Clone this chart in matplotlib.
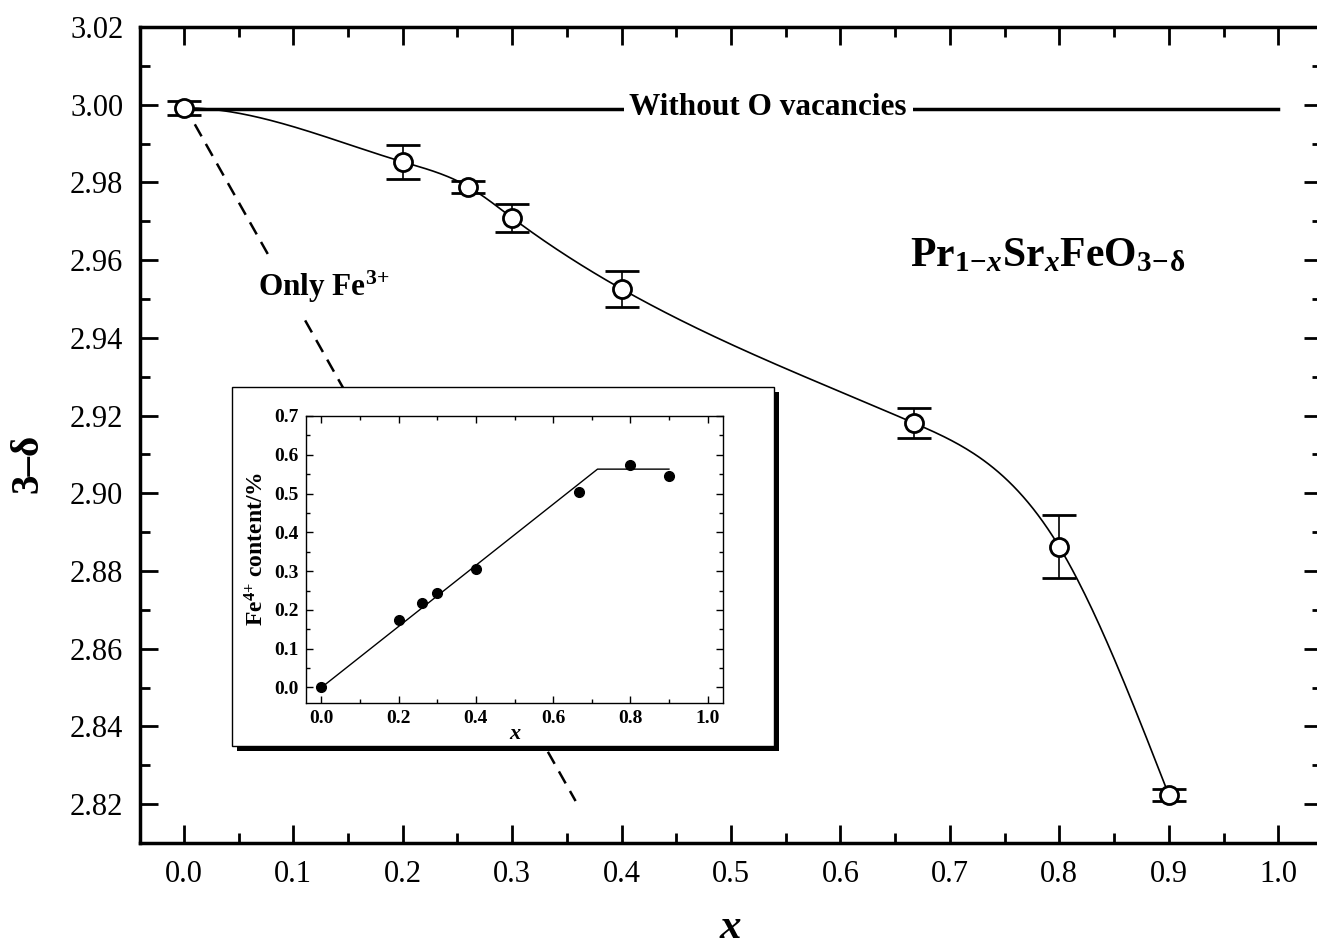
import numpy as np
import matplotlib
matplotlib.use("Agg")
import matplotlib.pyplot as plt
from matplotlib.patches import Rectangle
from matplotlib.ticker import MultipleLocator

plt.rcParams['font.family'] = ['Liberation Serif', 'DejaVu Serif']
plt.rcParams['mathtext.fontset'] = 'custom'
plt.rcParams['mathtext.rm'] = 'Liberation Serif:bold'
plt.rcParams['mathtext.bf'] = 'Liberation Serif:bold'
plt.rcParams['mathtext.it'] = 'Liberation Serif:italic:bold'

# oxygen content 3-delta vs Sr content x
sr_x = [0.0, 0.2, 0.26, 0.3, 0.4, 0.667, 0.8, 0.9]
oxygen = [2.9992, 2.9853, 2.9789, 2.9709, 2.9526, 2.9181, 2.8862, 2.8224]
oxygen_err = [0.0018, 0.0044, 0.0015, 0.0036, 0.0046, 0.0039, 0.0081, 0.0015]

# reference lines
no_vac_x = [0.0, 1.0]
no_vac_y = [2.999, 2.999]
only_fe3_x = [0.0, 0.358]
only_fe3_y = [3.0, 2.8208]

# inset: Fe4+ content
fe4_x = [0.0, 0.2, 0.26, 0.3, 0.4, 0.667, 0.8, 0.9]
fe4_y = [0.0, 0.1735, 0.219, 0.244, 0.3067, 0.504, 0.5747, 0.5455]
fe4_fit_x = [0.0, 0.715, 0.9]
fe4_fit_y = [0.0, 0.563, 0.563]


def spline(x, y, xs, start_slope=0.0):
    # cubic spline, clamped slope at the first point, natural at the last
    x = np.asarray(x, float)
    y = np.asarray(y, float)
    n = len(x)
    h = np.diff(x)
    A = np.zeros((n, n))
    b = np.zeros(n)
    A[0, 0] = 2 * h[0]
    A[0, 1] = h[0]
    b[0] = 3 * ((y[1] - y[0]) / h[0] - start_slope)
    A[-1, -1] = 1
    for i in range(1, n - 1):
        A[i, i - 1] = h[i - 1]
        A[i, i] = 2 * (h[i - 1] + h[i])
        A[i, i + 1] = h[i]
        b[i] = 3 * ((y[i + 1] - y[i]) / h[i] - (y[i] - y[i - 1]) / h[i - 1])
    c = np.linalg.solve(A, b)
    bb = (y[1:] - y[:-1]) / h - h * (2 * c[:-1] + c[1:]) / 3
    d = (c[1:] - c[:-1]) / (3 * h)
    idx = np.clip(np.searchsorted(x, xs) - 1, 0, n - 2)
    t = xs - x[idx]
    return y[idx] + bb[idx] * t + c[idx] * t ** 2 + d[idx] * t ** 3


W, H = 1317, 948
fig = plt.figure(figsize=(W / 100, H / 100), dpi=100)

ax = fig.add_axes([140 / W, (H - 843) / H, (1322 - 140) / W, (843 - 27) / H])
ax.set_xlim(-0.04, 1.04)
ax.set_ylim(2.81, 3.02)

xs = np.linspace(sr_x[0], sr_x[-1], 400)
ax.plot(xs, spline(sr_x, oxygen, xs), color='black', lw=1.2, zorder=2)
ax.plot(no_vac_x, no_vac_y, color='black', lw=2.5, zorder=2)
ax.plot(only_fe3_x, only_fe3_y, color='black', lw=1.8, dashes=(5.5, 3.5), zorder=1)
ax.errorbar(sr_x, oxygen, yerr=oxygen_err, fmt='o', ms=13, mfc='white', mec='black',
            mew=2, ecolor='black', elinewidth=1.2, capsize=12, capthick=1.2, zorder=3)

ax.text(0.534, 2.9974, 'Without O vacancies', ha='center', va='baseline', fontsize=22.5,
        fontweight='bold', zorder=4,
        bbox=dict(facecolor='white', edgecolor='none', pad=4))
ax.text(0.0676, 2.9508, r'Only Fe$^{3\!+}$', ha='left', va='baseline', fontsize=22.5,
        fontweight='bold', zorder=4,
        bbox=dict(facecolor='white', edgecolor='none', pad=9))
ax.text(0.6636, 2.9583, r'Pr$_{1\!-\!x}$Sr$_{x}$FeO$_{3\!-\!\mathrm{δ}}$', ha='left',
        va='baseline', fontsize=30, fontweight='bold', zorder=4)

ax.xaxis.set_major_locator(MultipleLocator(0.1))
ax.xaxis.set_minor_locator(MultipleLocator(0.05))
ax.yaxis.set_major_locator(MultipleLocator(0.02))
ax.yaxis.set_minor_locator(MultipleLocator(0.01))
ax.xaxis.set_major_formatter(plt.FuncFormatter(lambda v, p: f'{v:.1f}'))
ax.yaxis.set_major_formatter(plt.FuncFormatter(lambda v, p: f'{v:.2f}'))
ax.tick_params(which='both', direction='in', top=True, right=True, width=2, labelsize=22)
ax.tick_params(which='major', length=13, pad=12)
ax.tick_params(which='minor', length=7)
for s in ax.spines.values():
    s.set_linewidth(2.5)

fig.text(28 / W, 1 - 463 / H, '3–δ', rotation=90, ha='center', va='center',
         fontsize=28, fontweight='bold')
fig.text(730 / W, 1 - 938 / H, 'x', ha='center', va='baseline', fontsize=31,
         fontweight='bold', style='italic')

# inset frame with drop shadow
fl, fr, ft, fb = 232, 774, 387, 746
sh = 5
fig.patches.append(Rectangle(((fl + sh) / W, (H - fb - sh) / H), (fr - fl) / W, (fb - ft) / H,
                             transform=fig.transFigure, facecolor='black', edgecolor='none', zorder=1))
fig.patches.append(Rectangle((fl / W, (H - fb) / H), (fr - fl) / W, (fb - ft) / H,
                             transform=fig.transFigure, facecolor='white', edgecolor='black',
                             lw=1, zorder=2))

ins = fig.add_axes([306 / W, (H - 703) / H, (723 - 306) / W, (703 - 416) / H], zorder=3)
ins.set_xlim(-0.04, 1.04)
ins.set_ylim(-0.04, 0.7)
ins.plot(fe4_fit_x, fe4_fit_y, color='black', lw=1)
ins.plot(fe4_x, fe4_y, 'o', color='black', ms=7)
ins.xaxis.set_major_locator(MultipleLocator(0.2))
ins.xaxis.set_minor_locator(MultipleLocator(0.1))
ins.yaxis.set_major_locator(MultipleLocator(0.1))
ins.yaxis.set_minor_locator(MultipleLocator(0.05))
ins.xaxis.set_major_formatter(plt.FuncFormatter(lambda v, p: f'{v:.1f}'))
ins.yaxis.set_major_formatter(plt.FuncFormatter(lambda v, p: f'{v:.1f}'))
ins.tick_params(which='both', direction='in', top=True, right=True, width=1, labelsize=14)
ins.tick_params(which='major', length=5, pad=5)
ins.tick_params(which='minor', length=3)
for lab in ins.get_xticklabels() + ins.get_yticklabels():
    lab.set_fontweight('bold')
for s in ins.spines.values():
    s.set_linewidth(1)
ins.set_ylabel(r'Fe$^{4\!+}\,$content/%', fontsize=17, fontweight='bold')
ins.yaxis.set_label_coords(-0.089, 0.537)
ins.set_xlabel('x', fontsize=16, fontweight='bold', style='italic', labelpad=-2)

fig.savefig('out.png', dpi=100)
